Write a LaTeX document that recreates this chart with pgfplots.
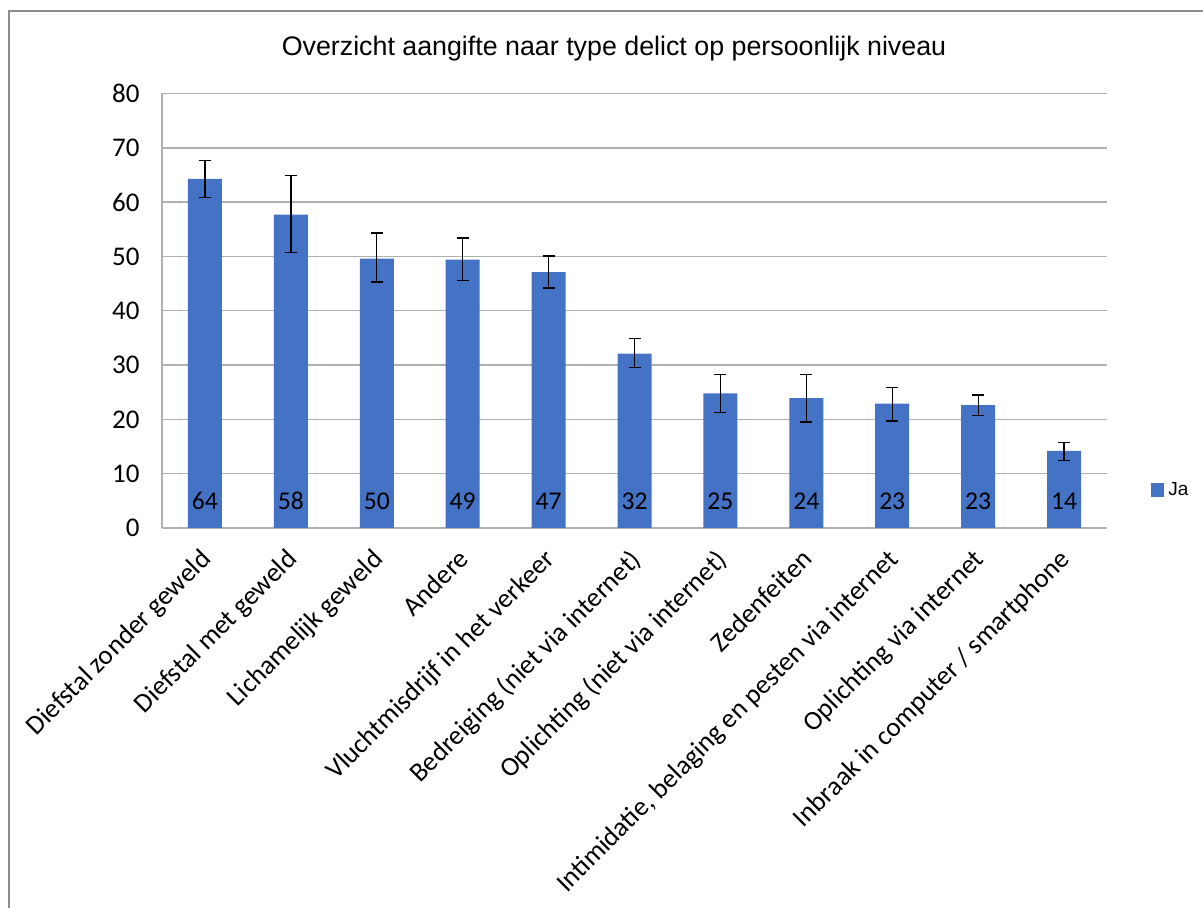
\documentclass[border=0pt]{standalone}
\usepackage{fontspec}
\setmainfont{Carlito}
\newfontfamily\arial{Liberation Sans}
\usepackage{pgfplots}
\usepackage{pgfplotstable}
\pgfplotsset{compat=1.18}
\definecolor{barblue}{HTML}{4472C4}
\definecolor{gridgray}{HTML}{B0B0B0}
\definecolor{framegray}{HTML}{8C8C8C}

\pgfplotstableread{
x y ep em ly lab
0 64.3 3.4 3.4 5 64
1 57.7 7.2 7.0 5 58
2 49.6 4.7 4.3 5 50
3 49.4 4.0 3.8 5 49
4 47.1 3.0 2.9 5 47
5 32.1 2.8 2.6 5 32
6 24.8 3.4 3.5 5 25
7 23.9 4.3 4.4 5 24
8 22.9 3.0 3.2 5 23
9 22.6 1.9 1.9 5 23
10 14.2 1.5 1.8 5 14
}\datatable

\begin{document}
\begin{tikzpicture}
\useasboundingbox (0,0) rectangle (601.5pt,454pt);
\draw[framegray, line width=0.7pt] (4.5pt,0) -- (4.5pt,448.5pt) -- (601.5pt,448.5pt);
\node[font=\arial\fontsize{13.4}{15}\selectfont] at (307pt,429.5pt) {Overzicht aangifte naar type delict op persoonlijk niveau};
\begin{axis}[
  at={(81pt,190pt)}, anchor=south west,
  scale only axis, width=472.5pt, height=217.25pt,
  xmin=-0.5, xmax=10.5, ymin=0, ymax=80,
  ytick={0,10,...,80},
  xtick={0,...,10},
  xticklabels={Diefstal zonder geweld, Diefstal met geweld, Lichamelijk geweld, Andere, Vluchtmisdrijf in het verkeer, Bedreiging (niet via internet), Oplichting (niet via internet), Zedenfeiten, {Intimidatie, belaging en pesten via internet}, Oplichting via internet, Inbraak in computer / smartphone},
  /pgf/number format/assume math mode=true,
  axis x line*=bottom, axis y line*=left,
  axis line style={draw=gridgray, line width=0.7pt, -},
  ymajorgrids, grid style={gridgray, line width=0.7pt},
  major tick length=0pt, tick style={draw=none},
  yticklabel style={font=\fontsize{13.5}{15}\selectfont, anchor=east, inner sep=0pt, xshift=-11pt},
  xticklabel style={font=\fontsize{13.5}{15}\selectfont, yshift=-9.5pt, xshift=-3pt, rotate=45, anchor=north east, inner sep=0pt},
  legend style={at={(1.046,0.0875)}, anchor=west, draw=none, fill=none, font=\arial\fontsize{9.5}{11}\selectfont, inner sep=0pt},
  legend image code/.code={\fill[barblue] (0pt,-3.4pt) rectangle (6.8pt,3.4pt);},
]
\addplot[ybar, bar width=17pt, fill=barblue, draw=none,
  error bars/.cd, y dir=both, y explicit,
  error bar style={black, line width=0.65pt},
  error mark options={rotate=90, black, mark size=3pt, line width=0.65pt}]
  table[x=x, y=y, y error plus=ep, y error minus=em] {\datatable};
\addlegendentry{Ja}
\addplot[draw=none, mark=none, forget plot, nodes near coords, point meta=explicit symbolic,
  nodes near coords style={font=\fontsize{12.8}{14}\selectfont, anchor=center, inner sep=0pt}]
  table[x=x, y=ly, meta=lab] {\datatable};
\end{axis}
\end{tikzpicture}
\end{document}
